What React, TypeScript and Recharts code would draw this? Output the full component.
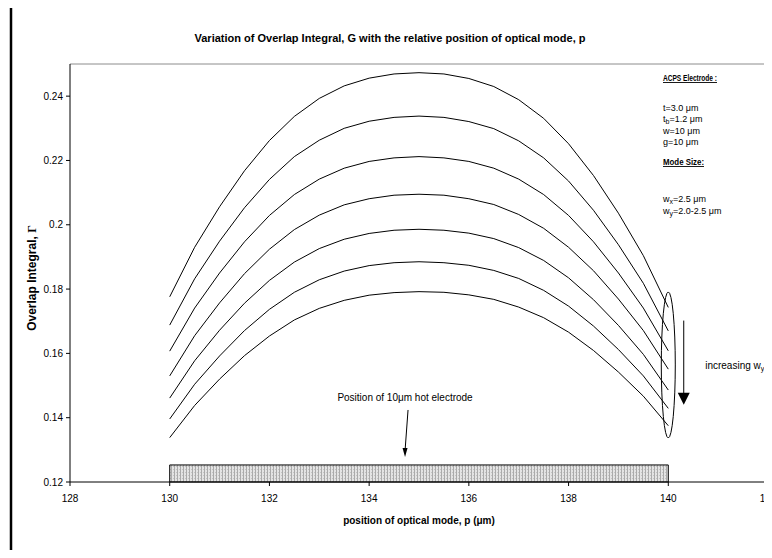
import React from "react";
import {
  LineChart,
  Line,
  XAxis,
  YAxis,
  ReferenceArea,
  ReferenceDot,
  ReferenceLine,
} from "recharts";

const FONT = "'Liberation Sans', Arial, sans-serif";

// position of optical mode p (um), one reading every 0.5 um
const positions = [
  130, 130.5, 131, 131.5, 132, 132.5, 133, 133.5, 134, 134.5, 135,
  135.5, 136, 136.5, 137, 137.5, 138, 138.5, 139, 139.5, 140,
];

// overlap integral, top curve = smallest wy, bottom = largest wy
const gammaWy1 = [0.1776, 0.193, 0.2056, 0.2168, 0.2262, 0.2337, 0.2393, 0.2432, 0.2456, 0.2469, 0.2473, 0.2469, 0.2455, 0.243, 0.2389, 0.2331, 0.2252, 0.2153, 0.2036, 0.1904, 0.1743];
const gammaWy2 = [0.1688, 0.1832, 0.1949, 0.2053, 0.2141, 0.2212, 0.2263, 0.23, 0.2322, 0.2334, 0.2338, 0.2334, 0.2321, 0.2299, 0.2261, 0.2208, 0.2136, 0.2045, 0.1938, 0.1818, 0.167];
const gammaWy3 = [0.1607, 0.1741, 0.185, 0.1947, 0.2029, 0.2094, 0.2142, 0.2176, 0.2197, 0.2208, 0.2212, 0.2208, 0.2197, 0.2176, 0.2142, 0.2094, 0.2029, 0.1947, 0.185, 0.1741, 0.1608];
const gammaWy4 = [0.153, 0.1655, 0.1757, 0.1848, 0.1924, 0.1985, 0.203, 0.2062, 0.2081, 0.2092, 0.2095, 0.2092, 0.2081, 0.2063, 0.2032, 0.1989, 0.193, 0.1857, 0.1769, 0.1671, 0.1551];
const gammaWy5 = [0.1461, 0.1577, 0.1672, 0.1756, 0.1827, 0.1884, 0.1926, 0.1955, 0.1973, 0.1983, 0.1986, 0.1983, 0.1974, 0.1957, 0.1929, 0.1889, 0.1835, 0.1767, 0.1687, 0.1597, 0.1486];
const gammaWy6 = [0.1396, 0.1504, 0.1592, 0.1671, 0.1737, 0.179, 0.1829, 0.1856, 0.1873, 0.1882, 0.1885, 0.1882, 0.1874, 0.1858, 0.1833, 0.1796, 0.1747, 0.1685, 0.1612, 0.153, 0.1429];
const gammaWy7 = [0.1338, 0.1438, 0.152, 0.1593, 0.1654, 0.1704, 0.174, 0.1765, 0.1781, 0.1789, 0.1792, 0.179, 0.1782, 0.1768, 0.1744, 0.1711, 0.1666, 0.1609, 0.1542, 0.1467, 0.1375];

const xTicks = [128, 130, 132, 134, 136, 138, 140, 142];
const yTicks = [0.12, 0.14, 0.16, 0.18, 0.2, 0.22, 0.24];

// hot electrode spans 130..140 um
const electrode = { from: 130, to: 140, top: 0.1253 };

const curves = [gammaWy1, gammaWy2, gammaWy3, gammaWy4, gammaWy5, gammaWy6, gammaWy7];
const rows = positions.map((p, i) => {
  const row: any = { p };
  curves.forEach((c, k) => (row["g" + k] = c[i]));
  return row;
});

const tickStyle = { fontSize: 10, fill: "#000", fontFamily: FONT };

// letter with a subscript, then the rest of the line back on the baseline
const Sub = ({ base, sub, rest }: { base: string; sub: string; rest?: string }) => (
  <>
    {base}
    <tspan fontSize={7} dy={2}>{sub}</tspan>
    {rest ? <tspan dy={-2}>{rest}</tspan> : null}
  </>
);

export default function App() {
  return (
    <div style={{ position: "relative", width: 772, height: 558, margin: "-8px 0 0 -8px", background: "#fff", fontFamily: FONT }}>
      <svg width={0} height={0} style={{ position: "absolute" }}>
        <defs>
          <pattern id="hatch" width={3} height={3} patternUnits="userSpaceOnUse">
            <rect width={3} height={3} fill="#e4e4e4" />
            <rect width={1} height={3} fill="#ababab" />
            <rect x={2} y={1} width={1} height={1} fill="#c4c4c4" />
          </pattern>
        </defs>
      </svg>
      <div style={{ position: "absolute", left: 0, top: 0 }}>
        <LineChart width={772} height={558} data={rows} margin={{ top: 64, right: 4, bottom: 46, left: 0 }}>
          <XAxis
            type="number"
            dataKey="p"
            domain={[128, 142]}
            ticks={xTicks}
            interval={0}
            allowDataOverflow
            height={30}
            tickSize={4}
            tickMargin={9}
            axisLine={{ stroke: "#000" }}
            tickLine={{ stroke: "#000" }}
            tick={tickStyle}
          />
          <YAxis
            type="number"
            domain={[0.12, 0.25]}
            ticks={yTicks}
            interval={0}
            allowDataOverflow
            width={70}
            tickSize={4}
            tickMargin={3}
            axisLine={{ stroke: "#000" }}
            tickLine={{ stroke: "#000" }}
            tick={tickStyle}
            tickFormatter={(v: number) => String(Number(v.toFixed(2)))}
          />
          <ReferenceLine y={0.25} stroke="#8c8c8c" ifOverflow="visible" />
          <ReferenceLine x={142} stroke="#8c8c8c" ifOverflow="visible" />
          <ReferenceArea
            x1={electrode.from}
            x2={electrode.to}
            y1={0.12}
            y2={electrode.top}
            fill="url(#hatch)"
            fillOpacity={1}
            stroke="#000"
            strokeOpacity={1}
          />
          {curves.map((_, k) => (
            <Line
              key={k}
              dataKey={"g" + k}
              type="linear"
              stroke="#000"
              strokeWidth={1}
              dot={false}
              isAnimationActive={false}
            />
          ))}
          {/* ellipse round the curve ends */}
          <ReferenceDot
            x={140}
            y={0.1564}
            ifOverflow="visible"
            shape={(p: any) => <ellipse cx={p.cx} cy={p.cy} rx={7} ry={73} fill="none" stroke="#000" strokeWidth={1} />}
          />
          {/* increasing wy arrow */}
          <ReferenceLine
            segment={[{ x: 140.31, y: 0.1702 }, { x: 140.31, y: 0.144 }]}
            ifOverflow="visible"
            shape={(p: any) => (
              <g>
                <line x1={p.x1} y1={p.y1} x2={p.x2} y2={p.y2 - 10} stroke="#000" strokeWidth={1} />
                <polygon points={`${p.x2 - 6},${p.y2 - 12} ${p.x2 + 6},${p.y2 - 12} ${p.x2},${p.y2}`} fill="#000" />
              </g>
            )}
          />
          <ReferenceDot
            x={140.74}
            y={0.1551}
            ifOverflow="visible"
            shape={(p: any) => (
              <text x={p.cx} y={p.cy} fontSize={10} fontFamily={FONT} fill="#000">
                <Sub base="increasing w" sub="y" />
              </text>
            )}
          />
          {/* hot electrode label and arrow */}
          <ReferenceDot
            x={134.72}
            y={0.1453}
            ifOverflow="visible"
            shape={(p: any) => (
              <text x={p.cx} y={p.cy} fontSize={10} fontFamily={FONT} fill="#000" textAnchor="middle">
                Position of 10μm hot electrode
              </text>
            )}
          />
          <ReferenceLine
            segment={[{ x: 134.78, y: 0.1424 }, { x: 134.72, y: 0.1278 }]}
            ifOverflow="visible"
            shape={(p: any) => (
              <g>
                <line x1={p.x1} y1={p.y1} x2={p.x2} y2={p.y2 - 6} stroke="#000" strokeWidth={1} />
                <polygon points={`${p.x2 - 2.5},${p.y2 - 9} ${p.x2 + 2.5},${p.y2 - 9} ${p.x2},${p.y2}`} fill="#000" />
              </g>
            )}
          />
        </LineChart>
      </div>
      <svg width={772} height={558} style={{ position: "absolute", left: 0, top: 0, pointerEvents: "none" }}>
        {/* chart frame */}
        <line x1={11} y1={1.5} x2={772} y2={1.5} stroke="#000" strokeWidth={2.5} />
        <line x1={11} y1={0} x2={11} y2={550} stroke="#000" strokeWidth={2.5} />
        <text x={390} y={42} textAnchor="middle" fontSize={11} fontWeight="bold" fontFamily={FONT} textLength={391} lengthAdjust="spacingAndGlyphs">
          Variation of Overlap Integral, G with the relative position of optical mode, p
        </text>
        <text transform="translate(36,278) rotate(-90)" textAnchor="middle" fontSize={12} fontWeight="bold" fontFamily={FONT}>
          Overlap Integral, <tspan fontFamily="'Liberation Serif', serif">Γ</tspan>
        </text>
        <text x={419} y={524} textAnchor="middle" fontSize={10} fontWeight="bold" fontFamily={FONT}>
          position of optical mode, p (μm)
        </text>
        <g fontSize={9} fontFamily={FONT} fill="#000" style={{ whiteSpace: "pre" }}>
          <text x={663} y={81} fontWeight="bold" textDecoration="underline" textLength={54} lengthAdjust="spacingAndGlyphs">ACPS Electrode :</text>
          <text x={663} y={111}>t=3.0 μm</text>
          <text x={663} y={122}><Sub base="t" sub="b" rest="=1.2 μm" /></text>
          <text x={663} y={134}>w=10 μm</text>
          <text x={663} y={145}>g=10 μm</text>
          <text x={663} y={165} fontWeight="bold" textDecoration="underline" textLength={41} lengthAdjust="spacingAndGlyphs">Mode Size:</text>
          <text x={663} y={202}><Sub base="w" sub="x" rest="=2.5  μm" /></text>
          <text x={663} y={214}><Sub base="w" sub="y" rest="=2.0-2.5  μm" /></text>
        </g>
      </svg>
    </div>
  );
}
